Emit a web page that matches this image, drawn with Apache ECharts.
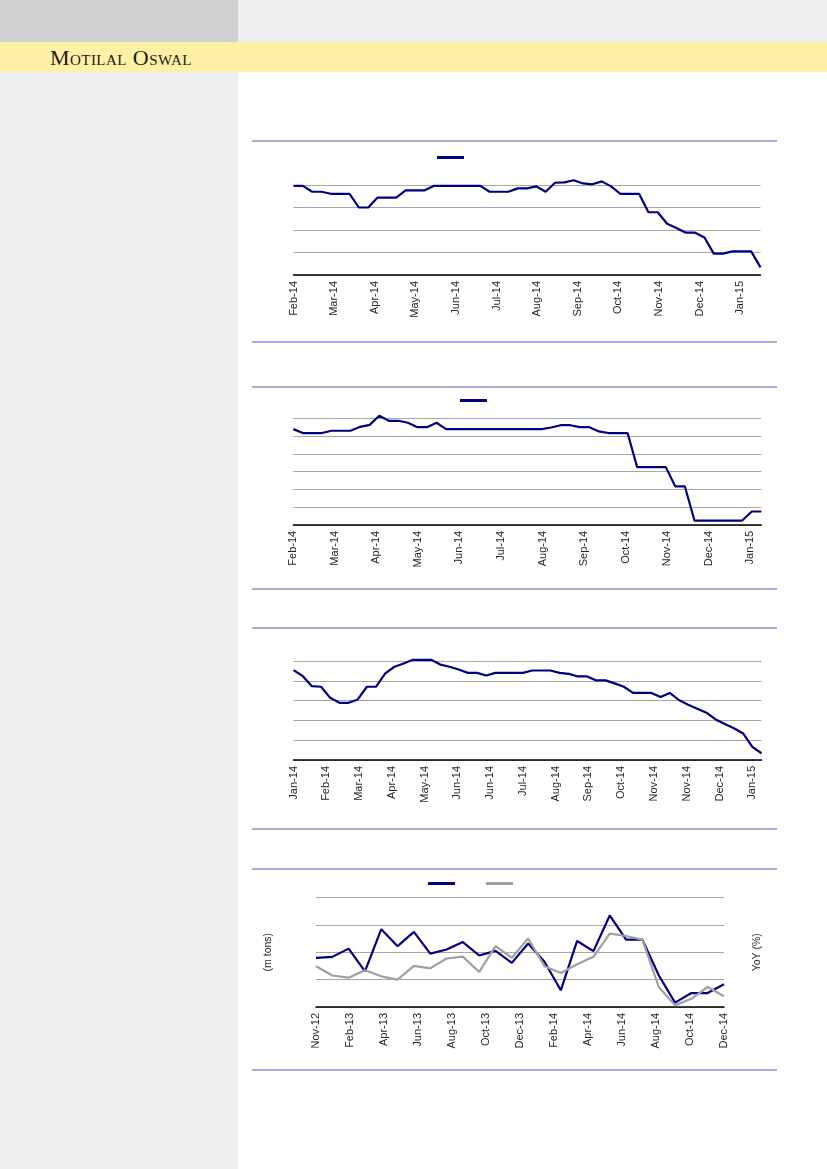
<!DOCTYPE html>
<html>
<head>
<meta charset="utf-8">
<script src="https://cdn.jsdelivr.net/npm/echarts@6/dist/echarts.min.js"></script>
<style>
  html, body { margin: 0; padding: 0; }
  #page { position: relative; width: 827px; height: 1169px; background: #ffffff; overflow: hidden; }
  .blk { position: absolute; }
  .rule { position: absolute; left: 252px; width: 525px; height: 2px; background: #aeabdc; }
  #brand { position: absolute; left: 50px; top: 47px; line-height: 22px; font-family: "Liberation Serif", "DejaVu Serif", serif; font-variant: small-caps; font-size: 22px; letter-spacing: 0.45px; color: #1a1a1a; white-space: nowrap; }
  #chart { position: absolute; left: 0; top: 0; width: 827px; height: 1169px; }
</style>
</head>
<body>
<div id="page">
  <div class="blk" style="left:0;top:0;width:238px;height:42px;background:#d0d0d0"></div>
  <div class="blk" style="left:238px;top:0;width:589px;height:42px;background:#efefef"></div>
  <div class="blk" style="left:0;top:42px;width:827px;height:30px;background:#fff0a6"></div>
  <div class="blk" style="left:0;top:72px;width:238px;height:1097px;background:#efefef"></div>
  <div id="brand">Motilal Oswal</div>
  <div class="rule" style="top:140px"></div>
  <div class="rule" style="top:341px"></div>
  <div class="rule" style="top:386px"></div>
  <div class="rule" style="top:588px"></div>
  <div class="rule" style="top:627px"></div>
  <div class="rule" style="top:828px"></div>
  <div class="rule" style="top:868px"></div>
  <div class="rule" style="top:1069px"></div>
  <div id="chart"></div>
</div>
<script>
// ---------- DATA ----------
// Chart 1: weekly series (Feb-14 .. Jan-15)
const c1Ticks = ['Feb-14','Mar-14','Apr-14','May-14','Jun-14','Jul-14','Aug-14','Sep-14','Oct-14','Nov-14','Dec-14','Jan-15'];
const c1Values = [3.96,3.96,3.70,3.70,3.61,3.61,3.61,3.00,3.00,3.44,3.44,3.44,3.76,3.76,3.76,3.96,3.96,3.96,3.96,3.96,3.96,3.70,3.70,3.70,3.85,3.85,3.94,3.70,4.10,4.12,4.21,4.07,4.03,4.16,3.94,3.61,3.61,3.61,2.79,2.79,2.28,2.09,1.88,1.88,1.67,0.95,0.95,1.05,1.05,1.05,0.34];

// Chart 2: weekly series (Feb-14 .. Jan-15)
const c2Ticks = ['Feb-14','Mar-14','Apr-14','May-14','Jun-14','Jul-14','Aug-14','Sep-14','Oct-14','Nov-14','Dec-14','Jan-15'];
const c2Values = [5.39,5.17,5.17,5.17,5.30,5.30,5.30,5.52,5.63,6.14,5.86,5.86,5.75,5.50,5.50,5.75,5.39,5.39,5.39,5.39,5.39,5.39,5.39,5.39,5.39,5.39,5.39,5.48,5.61,5.61,5.50,5.50,5.26,5.17,5.17,5.17,3.25,3.25,3.25,3.25,2.16,2.16,0.24,0.24,0.24,0.24,0.24,0.24,0.75,0.75];

// Chart 3: weekly series (Jan-14 .. Jan-15), tick labels every 25 days
const c3Ticks = ['Jan-14','Feb-14','Mar-14','Apr-14','May-14','Jun-14','Jun-14','Jul-14','Aug-14','Sep-14','Oct-14','Nov-14','Nov-14','Dec-14','Jan-15'];
const c3Values = [4.54,4.24,3.73,3.70,3.14,2.89,2.89,3.06,3.70,3.70,4.37,4.71,4.87,5.06,5.06,5.06,4.82,4.71,4.57,4.40,4.40,4.27,4.40,4.40,4.40,4.40,4.52,4.52,4.52,4.40,4.35,4.22,4.22,4.02,4.02,3.87,3.70,3.39,3.39,3.39,3.18,3.39,3.03,2.79,2.59,2.39,2.05,1.82,1.60,1.34,0.66,0.34];

// Chart 4: monthly series (Nov-12 .. Dec-14)
const c4Ticks = ['Nov-12','Feb-13','Apr-13','Jun-13','Aug-13','Oct-13','Dec-13','Feb-14','Apr-14','Jun-14','Aug-14','Oct-14','Dec-14'];
const c4Volume = [1.79,1.83,2.13,1.30,2.84,2.22,2.74,1.95,2.10,2.37,1.88,2.05,1.61,2.32,1.65,0.61,2.41,2.04,3.34,2.46,2.46,1.16,0.16,0.51,0.51,0.83];
const c4Yoy = [1.49,1.15,1.07,1.34,1.12,1.00,1.50,1.41,1.77,1.84,1.28,2.22,1.80,2.50,1.49,1.24,1.56,1.83,2.68,2.59,2.46,0.73,0.06,0.30,0.73,0.39];

// ---------- CHART ----------
const NAVY = '#000080';
const GREY = '#a0a0a0';
const FONT = 'Liberation Sans, Arial, sans-serif';
const MONTH = 365.25 / 12;

function stepFormatter(ticks, step) {
  return function (v) {
    const k = Math.round(v / step);
    if (Math.abs(v - k * step) > step * 0.02) return '';
    return ticks[k] || '';
  };
}

function xAxisCfg(gridIndex, max, interval, fmt) {
  return {
    type: 'value', gridIndex: gridIndex, min: 0, max: max, interval: interval,
    axisLine: { show: true, onZero: false, lineStyle: { color: '#000000', width: 1.5 } },
    axisTick: { show: false },
    splitLine: { show: false },
    axisLabel: { rotate: 90, fontSize: 11, color: '#262626', fontFamily: FONT, margin: 6, formatter: fmt, showMaxLabel: false }
  };
}

function yAxisCfg(gridIndex, max, extra) {
  return Object.assign({
    type: 'value', gridIndex: gridIndex, min: 0, max: max, interval: 1,
    axisLine: { show: false }, axisTick: { show: false }, axisLabel: { show: false },
    splitLine: { show: true, lineStyle: { color: '#a6a6a6', width: 1 } }
  }, extra || {});
}

function lineSeries(name, xi, yi, data, color) {
  return {
    name: name, type: 'line', xAxisIndex: xi, yAxisIndex: yi, data: data,
    symbol: 'none', clip: false, animation: false,
    lineStyle: { color: color, width: 2.2 }, itemStyle: { color: color }
  };
}

const legendCommon = {
  icon: 'rect', itemWidth: 27, itemHeight: 3, padding: 0, itemGap: 26,
  selectedMode: false, formatter: function () { return ''; },
  textStyle: { fontSize: 10, lineHeight: 10 }
};

const chart = echarts.init(document.getElementById('chart'), null, { renderer: 'canvas' });
chart.setOption({
  animation: false,
  backgroundColor: 'transparent',
  grid: [
    { left: 293.5, top: 185, width: 467, height: 90, outerBoundsMode: 'none' },
    { left: 293.3, top: 418.3, width: 468, height: 106.5, outerBoundsMode: 'none' },
    { left: 293.5, top: 661, width: 468, height: 99, outerBoundsMode: 'none' },
    { left: 316, top: 897.4, width: 408, height: 109.6, outerBoundsMode: 'none' }
  ],
  legend: [
    Object.assign({ data: ['Series A'], left: 437, top: 156 }, legendCommon),
    Object.assign({ data: ['Series B'], left: 460, top: 399 }, legendCommon),
    Object.assign({ data: ['Volume', 'YoY'], left: 428, top: 882 }, legendCommon)
  ],
  xAxis: [
    xAxisCfg(0, 7 * (c1Values.length - 1), MONTH, stepFormatter(c1Ticks, MONTH)),
    xAxisCfg(1, 7 * (c2Values.length - 1), MONTH, stepFormatter(c2Ticks, MONTH)),
    xAxisCfg(2, 7 * (c3Values.length - 1), 25, stepFormatter(c3Ticks, 25)),
    xAxisCfg(3, c4Volume.length - 1, (c4Volume.length - 1) / (c4Ticks.length - 1), stepFormatter(c4Ticks, (c4Volume.length - 1) / (c4Ticks.length - 1)))
  ],
  yAxis: [
    yAxisCfg(0, 4),
    yAxisCfg(1, 6),
    yAxisCfg(2, 5),
    yAxisCfg(3, 4, {
      position: 'left', name: '(m tons)', nameLocation: 'middle', nameRotate: 90, nameGap: 42,
      nameTextStyle: { fontSize: 10.5, color: '#262626', fontFamily: FONT }
    }),
    yAxisCfg(3, 4, {
      position: 'right', splitLine: { show: false }, name: 'YoY (%)', nameLocation: 'middle', nameRotate: 90, nameGap: 28,
      nameTextStyle: { fontSize: 10.5, color: '#262626', fontFamily: FONT }
    })
  ],
  series: [
    lineSeries('Series A', 0, 0, c1Values.map(function (v, i) { return [i * 7, v]; }), NAVY),
    lineSeries('Series B', 1, 1, c2Values.map(function (v, i) { return [i * 7, v]; }), NAVY),
    lineSeries('Series C', 2, 2, c3Values.map(function (v, i) { return [i * 7, v]; }), NAVY),
    lineSeries('Volume', 3, 3, c4Volume.map(function (v, i) { return [i, v]; }), NAVY),
    lineSeries('YoY', 3, 4, c4Yoy.map(function (v, i) { return [i, v]; }), GREY)
  ]
});
</script>
</body>
</html>
